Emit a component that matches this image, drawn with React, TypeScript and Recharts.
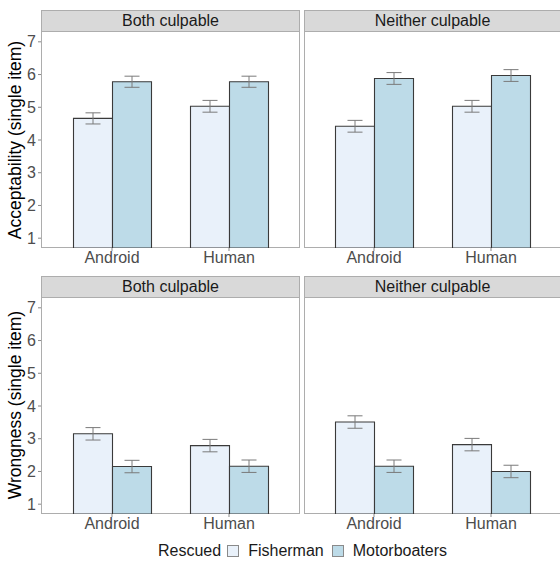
import { BarChart, Bar, XAxis, YAxis, ErrorBar } from 'recharts'

const categories = ['Android', 'Human']
const yTicks = [1, 2, 3, 4, 5, 6, 7]

// acceptability, top row
const accBothFisher = [4.66, 5.03]
const accBothMotor = [5.78, 5.78]
const accBothFisherSe = [0.17, 0.18]
const accBothMotorSe = [0.17, 0.17]
const accNeitherFisher = [4.42, 5.03]
const accNeitherMotor = [5.88, 5.97]
const accNeitherFisherSe = [0.18, 0.18]
const accNeitherMotorSe = [0.18, 0.18]

// wrongness, bottom row
const wrBothFisher = [3.15, 2.79]
const wrBothMotor = [2.15, 2.16]
const wrBothFisherSe = [0.19, 0.19]
const wrBothMotorSe = [0.19, 0.19]
const wrNeitherFisher = [3.51, 2.82]
const wrNeitherMotor = [2.16, 2.0]
const wrNeitherFisherSe = [0.19, 0.19]
const wrNeitherMotorSe = [0.19, 0.19]

const FISHER = '#E9F1FA'
const MOTOR = '#BDDBE8'
const FONT = '"Liberation Sans", Arial, sans-serif'
const BORDER = '#ADADAD'

const build = (f: number[], m: number[], fe: number[], me: number[]) =>
  categories.map((name, i) => ({ name, fisher: f[i], motor: m[i], fErr: fe[i], mErr: me[i] }))

type PanelProps = {
  title: string
  data: any[]
  left: number
  top: number
  plotW: number
  showY: boolean
}

const STRIP_H = 22
const PLOT_H = 216
const AXIS_W = 41

function Panel({ title, data, left, top, plotW, showY }: PanelProps) {
  const plotLeft = left + (showY ? AXIS_W : 0)
  const pad = (plotW - 234) / 2
  return (
    <>
      <div style={{
        position: 'absolute', left: plotLeft, top, width: plotW, height: STRIP_H,
        background: '#D9D9D9', border: `1px solid ${BORDER}`, boxSizing: 'border-box',
        textAlign: 'center', fontSize: 16, lineHeight: `${STRIP_H - 2}px`, color: '#1A1A1A'
      }}>{title}</div>
      <div style={{
        position: 'absolute', left: plotLeft, top: top + STRIP_H - 1, width: plotW, height: PLOT_H + 1,
        border: `1px solid ${BORDER}`, boxSizing: 'border-box'
      }} />
      <div style={{ position: 'absolute', left, top: top + STRIP_H }}>
        <BarChart width={(showY ? AXIS_W : 0) + plotW} height={PLOT_H + 28} data={data}
          margin={{ top: 0, right: 0, bottom: 0, left: 0 }} barGap={0} barSize={39}>
          <XAxis dataKey="name" padding={{ left: pad, right: pad }} axisLine={false}
            tickSize={3} tickMargin={1} tickLine={{ stroke: '#888' }} height={28}
            tick={{ fontSize: 16, fill: '#4D4D4D' }} />
          <YAxis domain={[0.7, 7.3]} ticks={yTicks} allowDataOverflow hide={!showY}
            width={AXIS_W} axisLine={false} tickSize={3} tickMargin={2}
            tickLine={{ stroke: '#888' }} tick={{ fontSize: 16, fill: '#4D4D4D' }} />
          <Bar dataKey="fisher" fill={FISHER} stroke="#3A3A3A" strokeWidth={1.1} isAnimationActive={false}>
            <ErrorBar dataKey="fErr" width={7.5} stroke="#7A7A7A" strokeWidth={1} />
          </Bar>
          <Bar dataKey="motor" fill={MOTOR} stroke="#3A3A3A" strokeWidth={1.1} isAnimationActive={false}>
            <ErrorBar dataKey="mErr" width={7.5} stroke="#7A7A7A" strokeWidth={1} />
          </Bar>
        </BarChart>
      </div>
    </>
  )
}

function YTitle({ text, cy }: { text: string; cy: number }) {
  return (
    <div style={{
      position: 'absolute', left: 15, top: cy, width: 0, height: 0
    }}>
      <div style={{
        position: 'absolute', transform: 'translate(-50%, -50%) rotate(-90deg)',
        whiteSpace: 'nowrap', fontSize: 17.5, color: '#000'
      }}>{text}</div>
    </div>
  )
}

function Swatch({ color, ml }: { color: string; ml: number }) {
  return <span style={{
    display: 'inline-block', width: 12, height: 12, background: color,
    border: '1px solid #8A8A8A', boxSizing: 'border-box', margin: `0 9px 0 ${ml}px`
  }} />
}

export default function App() {
  return (
    <div style={{
      position: 'absolute', left: 0, top: 0, width: 560, height: 563, overflow: 'hidden',
      background: '#fff', fontFamily: FONT
    }}>
      <Panel title="Both culpable" data={build(accBothFisher, accBothMotor, accBothFisherSe, accBothMotorSe)}
        left={0} top={10} plotW={259} showY />
      <Panel title="Neither culpable" data={build(accNeitherFisher, accNeitherMotor, accNeitherFisherSe, accNeitherMotorSe)}
        left={304} top={10} plotW={257} showY={false} />
      <Panel title="Both culpable" data={build(wrBothFisher, wrBothMotor, wrBothFisherSe, wrBothMotorSe)}
        left={0} top={276} plotW={259} showY />
      <Panel title="Neither culpable" data={build(wrNeitherFisher, wrNeitherMotor, wrNeitherFisherSe, wrNeitherMotorSe)}
        left={304} top={276} plotW={257} showY={false} />
      <YTitle text="Acceptability (single item)" cy={140} />
      <YTitle text="Wrongness (single item)" cy={405} />
      <div style={{
        position: 'absolute', left: 158, top: 541, height: 20, display: 'flex', alignItems: 'center',
        fontSize: 16, color: '#1A1A1A', whiteSpace: 'nowrap'
      }}>
        Rescued<Swatch color={FISHER} ml={6} />Fisherman<Swatch color={MOTOR} ml={8} />Motorboaters
      </div>
    </div>
  )
}
